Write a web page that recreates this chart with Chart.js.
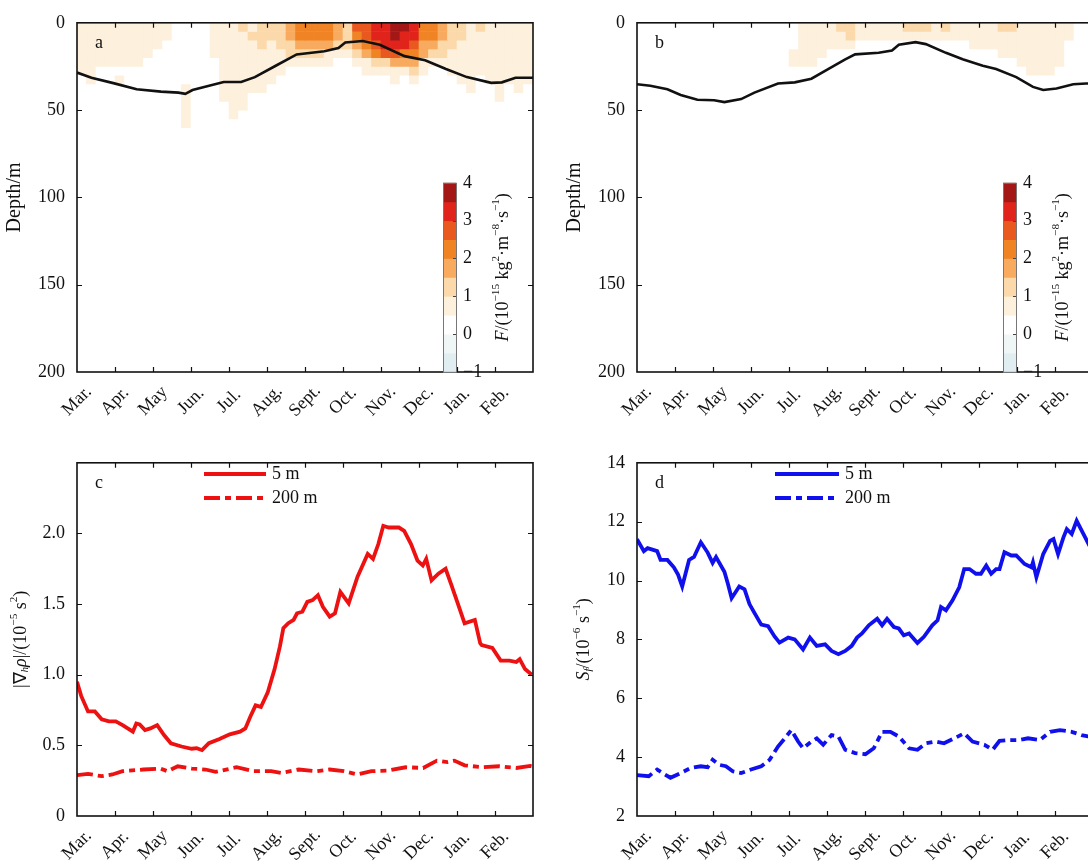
<!DOCTYPE html>
<html><head><meta charset="utf-8">
<script src="https://cdn.jsdelivr.net/npm/chart.js@4.4.0/dist/chart.umd.min.js"></script>
<style>
html,body{margin:0;padding:0;background:#fff;overflow:hidden;width:1088px;height:864px;position:relative;}
canvas{position:absolute;}
</style></head><body>
<canvas id="ca" width="560" height="430" style="left:0;top:0;width:560px;height:430px"></canvas>
<canvas id="cb" width="560" height="430" style="left:560px;top:0;width:560px;height:430px"></canvas>
<canvas id="cc" width="560" height="424" style="left:0;top:440px;width:560px;height:424px"></canvas>
<canvas id="cd" width="560" height="424" style="left:560px;top:440px;width:560px;height:424px"></canvas>
<script>
// ---------- categories / ticks ----------
const months = ['Mar.','Apr.','May','Jun.','Jul.','Aug.','Sept.','Oct.','Nov.','Dec.','Jan.','Feb.'];
const depthTicks = [0,50,100,150,200];
// heat-map column centres (month units, 0 = 1 Mar)
const colTime = [0.125,0.375,0.625,0.875,1.125,1.375,1.625,1.875,2.125,2.375,2.625,2.875,3.125,3.375,3.625,3.875,
  4.125,4.375,4.625,4.875,5.125,5.375,5.625,5.875,6.125,6.375,6.625,6.875,7.125,7.375,7.625,7.875,
  8.125,8.375,8.625,8.875,9.125,9.375,9.625,9.875,10.125,10.375,10.625,10.875,11.125,11.375,11.625,11.875];
const layerTop    = [0,5,10,15,20,25,30,35,40,45,50,55];
const layerBottom = [5,10,15,20,25,30,35,40,45,50,55,60];

// ---------- colour bar ----------
const cbBounds = [-1,-0.5,0,0.5,1,1.5,2,2.5,3,3.5,4];
const cbColors = ['#e0eef2','#f0f5f5','#ffffff','#fdf0dd','#fbd9aa','#f8aa5e','#f08424','#e9581e','#e0241b','#a31717'];
const cbTicks = [-1,0,1,2,3,4];

// ---------- panel a: F values (10^-15 kg2 m-8 s-1), one array per depth layer ----------
const a0to5   = [0.7,0.6,0.7,0.7, 0.6,0.7,0.7,0.6, 0.6,0.5, 0.3,0.2,0.3,0.4,0.6, 0.8,0.9,1.0,0.9,1.1, 1.1,1.3, 1.6,2.2,2.3,2.1, 2.2,1.7, 1.4,2.5, 2.8,3.1, 3.3,3.7,3.6,3.2, 2.3,2.2,1.8,1.4, 1.1,0.9,1.0,0.8,0.9,0.8,0.7,0.7];
const a5to10  = [0.7,0.6,0.6,0.7, 0.6,0.7,0.6,0.6, 0.5,0.5, 0.3,0.2,0.2,0.4,0.6, 0.8,0.9,0.9,1.0,1.0, 1.0,1.2, 1.5,2.1,2.2,2.0, 2.0,1.5, 1.3,2.4, 2.7,3.1, 3.2,3.5,3.4,3.0, 2.2,2.0,1.6,1.2, 1.0,0.9,0.9,0.8,0.8,0.8,0.7,0.7];
const a10to15 = [0.6,0.6,0.6,0.6, 0.6,0.6,0.6,0.5, 0.5,0.4, 0.2,0.2,0.2,0.3,0.5, 0.7,0.8,0.9,0.9,1.0, 0.9,1.1, 1.3,1.7,1.8,1.6, 1.5,1.2, 1.0,1.9, 2.4,2.9, 3.1,3.2,3.1,2.8, 1.9,1.7,1.3,1.1, 0.9,0.8,0.9,0.8,0.8,0.7,0.7,0.7];
const a15to20 = [0.6,0.6,0.5,0.6, 0.6,0.5,0.6,0.5, 0.4,0.4, 0.2,0.2,0.2,0.3,0.5, 0.7,0.8,0.8,0.9,0.9, 0.9,0.9, 1.0,1.2,1.2,1.1, 0.9,0.8, 0.7,1.2, 1.6,2.2, 2.6,2.7,2.4,2.2, 1.5,1.3,1.0,0.9, 0.9,0.8,0.8,0.7,0.8,0.7,0.7,0.7];
const a20to25 = [0.6,0.5,0.5,0.5, 0.5,0.5,0.5,0.4, 0.4,0.3, 0.2,0.2,0.2,0.3,0.4, 0.7,0.7,0.7,0.8,0.8, 0.8,0.8, 0.7,0.6,0.6,0.6, 0.5,0.4, 0.4,0.6, 0.9,1.3, 1.4,1.6,1.5,1.9, 0.9,0.8,0.7,0.7, 0.8,0.7,0.7,0.7,0.7,0.6,0.6,0.6];
const a25to30 = [0.5,0.5,0.4,0.4, 0.4,0.4,0.4,0.4, 0.3,0.3, 0.2,0.2,0.2,0.2,0.4, 0.6,0.6,0.7,0.6,0.6, 0.6,0.5, 0.4,0.3,0.2,0.2, 0.2,0.2, 0.2,0.3, 0.5,0.6, 0.7,0.8,0.7,1.1, 0.6,0.4,0.4,0.5, 0.6,0.6,0.5,0.6,0.6,0.5,0.6,0.6];
const a30to35 = [0.4,0.5,0.4,0.3, 0.5,0.3,0.4,0.3, 0.3,0.2, 0.2,0.2,0.2,0.2,0.3, 0.6,0.6,0.7,0.6,0.6, 0.5,0.3, 0.2,0.2,0.2,0.2, 0.2,0.2, 0.2,0.2, 0.3,0.4, 0.4,0.5,0.4,0.6, 0.3,0.2,0.2,0.3, 0.5,0.6,0.4,0.5,0.6,0.5,0.6,0.5];
const a35to40 = [0.2,0.3,0.2,0.2, 0.3,0.2,0.3,0.2, 0.2,0.2, 0.2,0.5,0.2,0.2,0.2, 0.6,0.6,0.6,0.5,0.5, 0.3,0.2, 0.2,0.2,0.2,0.2, 0.2,0.2, 0.2,0.2, 0.2,0.3, 0.2,0.3,0.2,0.3, 0.2,0.2,0.2,0.2, 0.3,0.5,0.2,0.3,0.5,0.3,0.5,0.3];
const a40to45 = [0.2,0.2,0.2,0.2, 0.2,0.2,0.2,0.2, 0.2,0.2, 0.2,0.5,0.2,0.2,0.2, 0.5,0.6,0.6,0.4,0.4, 0.2,0.2, 0.2,0.2,0.2,0.2, 0.2,0.2, 0.2,0.2, 0.2,0.2, 0.2,0.2,0.2,0.2, 0.2,0.2,0.2,0.2, 0.2,0.3,0.2,0.2,0.5,0.2,0.2,0.2];
const a45to50 = [0.2,0.2,0.2,0.2, 0.2,0.2,0.2,0.2, 0.2,0.2, 0.2,0.55,0.2,0.2,0.2, 0.4,0.55,0.5,0.3,0.2, 0.2,0.2, 0.2,0.2,0.2,0.2, 0.2,0.2, 0.2,0.2, 0.2,0.2, 0.2,0.2,0.2,0.2, 0.2,0.2,0.2,0.2, 0.2,0.2,0.2,0.2,0.2,0.2,0.2,0.2];
const a50to55 = [0.2,0.2,0.2,0.2, 0.2,0.2,0.2,0.2, 0.2,0.2, 0.2,0.55,0.2,0.2,0.2, 0.2,0.5,0.2,0.2,0.2, 0.2,0.2, 0.2,0.2,0.2,0.2, 0.2,0.2, 0.2,0.2, 0.2,0.2, 0.2,0.2,0.2,0.2, 0.2,0.2,0.2,0.2, 0.2,0.2,0.2,0.2,0.2,0.2,0.2,0.2];
const a55to60 = [0.2,0.2,0.2,0.2, 0.2,0.2,0.2,0.2, 0.2,0.2, 0.2,0.55,0.2,0.2,0.2, 0.2,0.2,0.2,0.2,0.2, 0.2,0.2, 0.2,0.2,0.2,0.2, 0.2,0.2, 0.2,0.2, 0.2,0.2, 0.2,0.2,0.2,0.2, 0.2,0.2,0.2,0.2, 0.2,0.2,0.2,0.2,0.2,0.2,0.2,0.2];

// ---------- panel b ----------
const b0to5   = [0.2,0.2,0.2,0.2, 0.2,0.2,0.2,0.2, 0.2,0.2, 0.2,0.2,0.2,0.2,0.2, 0.2,0.2,0.55,0.6,0.6, 0.6,1.1, 1.2,0.8,0.7,0.6, 0.7,0.6, 1.0,1.2, 1.1,0.9, 1.0,0.8,0.7,0.6, 0.7,0.8,1.1,1.0, 0.7,0.6,0.8,0.9,0.7,0.6,0.4,0.3];
const b5to10  = [0.2,0.2,0.2,0.2, 0.2,0.2,0.2,0.2, 0.2,0.2, 0.2,0.2,0.2,0.2,0.2, 0.2,0.2,0.5,0.6,0.6, 0.6,0.9, 1.0,0.7,0.6,0.6, 0.6,0.6, 0.8,0.9, 0.8,0.7, 0.8,0.6,0.6,0.6, 0.6,0.7,0.9,0.8, 0.6,0.6,0.7,0.7,0.6,0.6,0.4,0.3];
const b10to15 = [0.2,0.2,0.2,0.2, 0.2,0.2,0.2,0.2, 0.2,0.2, 0.2,0.2,0.2,0.2,0.2, 0.2,0.2,0.55,0.6,0.6, 0.5,0.6, 0.55,0.3,0.2,0.2, 0.2,0.2, 0.2,0.2, 0.2,0.2, 0.2,0.2,0.2,0.6, 0.5,0.6,0.6,0.5, 0.6,0.6,0.5,0.6,0.5,0.3,0.2,0.2];
const b15to20 = [0.2,0.2,0.2,0.2, 0.2,0.2,0.2,0.2, 0.2,0.2, 0.2,0.2,0.2,0.2,0.2, 0.2,0.5,0.6,0.6,0.5, 0.2,0.2, 0.2,0.2,0.2,0.2, 0.2,0.2, 0.2,0.2, 0.2,0.2, 0.2,0.2,0.2,0.2, 0.2,0.2,0.5,0.6, 0.5,0.6,0.6,0.5,0.5,0.2,0.2,0.2];
const b20to25 = [0.2,0.2,0.2,0.2, 0.2,0.2,0.2,0.2, 0.2,0.2, 0.2,0.2,0.2,0.2,0.2, 0.2,0.55,0.6,0.5,0.2, 0.2,0.2, 0.2,0.2,0.2,0.2, 0.2,0.2, 0.2,0.2, 0.2,0.2, 0.2,0.2,0.2,0.2, 0.2,0.2,0.2,0.2, 0.5,0.6,0.5,0.6,0.5,0.2,0.2,0.2];
const b25to30 = [0.2,0.2,0.2,0.2, 0.2,0.2,0.2,0.2, 0.2,0.2, 0.2,0.2,0.2,0.2,0.2, 0.2,0.2,0.2,0.2,0.2, 0.2,0.2, 0.2,0.2,0.2,0.2, 0.2,0.2, 0.2,0.2, 0.2,0.2, 0.2,0.2,0.2,0.2, 0.2,0.2,0.2,0.2, 0.2,0.5,0.55,0.5,0.2,0.2,0.2,0.2];

// ---------- mixed layer depth (m) ----------
const mldA_t = [0,0.38,0.93,1.57,2.21,2.67,2.85,3.04,3.86,4.32,4.68,5.23,5.78,6.51,6.88,7.06,7.52,7.97,8.62,9.16,9.71,10.26,10.9,11.18,11.54,12];
const mldA_d = [28.5,31.5,34.4,38.1,39.4,40,40.7,38.5,33.9,33.9,31.1,24.6,18.1,16.3,14.4,11.3,10.4,12.6,19.1,21.5,26.5,31.1,34.4,34.1,31.5,31.5];
const mldB_t = [0,0.35,0.8,1.15,1.59,2.03,2.3,2.74,3.09,3.71,4.15,4.59,5.03,5.48,5.74,6.36,6.71,6.89,7.33,7.6,8.13,8.57,9.1,9.45,9.98,10.42,10.69,11.04,11.48,11.82,12];
const mldB_d = [35.2,36.1,38.1,41.3,44.1,44.4,45.4,43.7,40,34.8,34.1,32,26.5,20.9,18.1,17.2,15.9,12.6,11.1,12.2,17.2,20.9,24.6,26.5,31.1,36.7,38.5,37.6,35.2,34.8,34.8];

// ---------- panel c: |grad rho| ----------
const c5_t = [0,0.11,0.29,0.47,0.65,0.84,1.02,1.2,1.47,1.56,1.65,1.79,1.93,2.11,2.29,2.47,2.75,3.02,3.15,3.29,3.47,3.75,4.02,4.29,4.43,4.56,4.7,4.84,5.02,5.2,5.34,5.43,5.56,5.7,5.79,5.93,6.06,6.2,6.34,6.47,6.65,6.79,6.93,7.15,7.38,7.65,7.79,7.93,8.06,8.2,8.47,8.61,8.79,8.96,9.1,9.19,9.33,9.51,9.7,9.84,10.02,10.2,10.47,10.61,10.65,10.93,11.15,11.38,11.56,11.65,11.79,11.97];
const c5_v = [0.95,0.85,0.74,0.74,0.685,0.67,0.67,0.643,0.597,0.655,0.648,0.608,0.62,0.643,0.573,0.515,0.492,0.476,0.48,0.466,0.515,0.545,0.578,0.597,0.62,0.702,0.783,0.772,0.876,1.04,1.2,1.33,1.365,1.388,1.435,1.446,1.516,1.528,1.563,1.481,1.411,1.435,1.586,1.505,1.692,1.855,1.82,1.925,2.054,2.042,2.042,2.019,1.925,1.808,1.773,1.82,1.668,1.715,1.75,1.645,1.505,1.364,1.388,1.224,1.21,1.19,1.10,1.10,1.09,1.11,1.04,1.0];
const c200_t = [0,0.29,0.65,0.93,1.2,1.75,2.2,2.38,2.65,3.02,3.38,3.65,4.2,4.65,5.11,5.38,5.84,6.29,6.65,7.02,7.38,7.75,8.2,8.65,9.11,9.47,9.75,9.93,10.2,10.65,11.11,11.56,11.93,12];
const c200_v = [0.289,0.298,0.282,0.294,0.317,0.329,0.336,0.317,0.352,0.336,0.329,0.312,0.345,0.317,0.317,0.305,0.329,0.317,0.329,0.317,0.294,0.317,0.322,0.345,0.34,0.392,0.382,0.392,0.359,0.345,0.352,0.34,0.354,0.35];

// ---------- panel d: S_f ----------
const d5_t = [0,0.18,0.28,0.53,0.62,0.8,0.97,1.08,1.19,1.37,1.5,1.68,1.86,1.99,2.08,2.3,2.39,2.49,2.69,2.83,2.96,3.09,3.27,3.45,3.62,3.75,3.98,4.15,4.37,4.55,4.73,4.95,5.12,5.3,5.48,5.65,5.79,5.92,6.1,6.32,6.45,6.58,6.76,6.89,7.02,7.16,7.38,7.55,7.77,7.91,8.0,8.13,8.3,8.48,8.61,8.75,8.92,9.05,9.19,9.32,9.45,9.54,9.67,9.85,9.98,10.2,10.38,10.42,10.51,10.69,10.87,10.96,11.08,11.22,11.31,11.44,11.57,11.75,11.9,12];
const d5_v = [11.4,11.0,11.1,11.0,10.7,10.7,10.45,10.2,9.8,10.7,10.8,11.3,10.95,10.6,10.8,10.3,9.9,9.4,9.8,9.7,9.2,8.9,8.5,8.45,8.1,7.89,8.06,8.0,7.66,8.06,7.78,7.83,7.61,7.5,7.61,7.78,8.06,8.2,8.48,8.7,8.48,8.7,8.42,8.37,8.14,8.2,7.88,8.09,8.48,8.65,9.1,8.99,9.32,9.77,10.39,10.39,10.23,10.23,10.51,10.23,10.39,10.39,10.96,10.85,10.85,10.56,10.45,10.62,10.11,10.9,11.35,11.41,10.9,11.46,11.75,11.58,12.03,11.58,11.2,11.0];
const d200_t = [0,0.31,0.53,0.71,0.88,1.15,1.41,1.68,1.86,1.99,2.16,2.34,2.52,2.74,3.0,3.27,3.49,3.71,3.89,4.06,4.24,4.37,4.59,4.73,4.9,5.12,5.3,5.48,5.74,6.01,6.23,6.45,6.67,6.89,7.16,7.38,7.6,7.86,8.08,8.35,8.61,8.83,9.14,9.36,9.54,9.81,10.07,10.29,10.6,10.87,11.13,11.44,11.7,11.9,12];
const d200_v = [3.39,3.35,3.58,3.43,3.3,3.46,3.63,3.69,3.66,3.91,3.74,3.69,3.52,3.46,3.58,3.69,3.91,4.36,4.64,4.92,4.53,4.3,4.53,4.64,4.42,4.75,4.7,4.25,4.14,4.1,4.3,4.86,4.86,4.7,4.3,4.25,4.47,4.53,4.47,4.64,4.81,4.53,4.42,4.25,4.55,4.58,4.58,4.64,4.58,4.86,4.92,4.86,4.75,4.7,4.7];

// ================= drawing =================
const SERIF = '"Liberation Serif","Times New Roman",serif';
const INK = '#111';

function colorFor(v){
  for (let i=0;i<cbColors.length;i++){ if (v < cbBounds[i+1]) return cbColors[i]; }
  return cbColors[cbColors.length-1];
}
function drawRich(ctx, segs, cx, cy, rot, size){
  ctx.save(); ctx.translate(cx,cy); ctx.rotate(rot);
  let total=0;
  const items = segs.map(s=>{
    const small = s.sup||s.sub;
    const fs = small? size*0.62 : size;
    const font = (s.it?'italic ':'')+fs+'px '+SERIF;
    ctx.font = font;
    const w = ctx.measureText(s.t).width; total += w;
    return {t:s.t,font,w,dy: s.sup? -size*0.36 : (s.sub? size*0.25 : 0)};
  });
  let x = -total/2;
  ctx.textAlign='left'; ctx.textBaseline='middle'; ctx.fillStyle=INK;
  items.forEach(it=>{ ctx.font=it.font; ctx.fillText(it.t,x,it.dy); x+=it.w; });
  ctx.restore();
}

function decoPlugin(cfg){
  return {
    id:'deco',
    afterDraw(chart){
      const ctx = chart.ctx, ca = chart.chartArea, xs = chart.scales.x, ys = chart.scales.y;
      ctx.save();
      // inward ticks
      ctx.strokeStyle=INK; ctx.lineWidth=1.2;
      ctx.beginPath();
      xs.ticks.forEach(t=>{
        if (t.value<=0 || t.value>=12) return;
        const x = Math.round(xs.getPixelForValue(t.value))+0.5;
        ctx.moveTo(x,ca.bottom); ctx.lineTo(x,ca.bottom-5);
        ctx.moveTo(x,ca.top); ctx.lineTo(x,ca.top+5);
      });
      ys.ticks.forEach(t=>{
        const y = Math.round(ys.getPixelForValue(t.value))+0.5;
        if (Math.abs(y-ca.top)<2 || Math.abs(y-ca.bottom)<2) return;
        ctx.moveTo(ca.left,y); ctx.lineTo(ca.left+5,y);
        ctx.moveTo(ca.right,y); ctx.lineTo(ca.right-5,y);
      });
      ctx.stroke();
      // frame
      ctx.lineWidth=1.6;
      ctx.strokeRect(ca.left,ca.top,ca.right-ca.left,ca.bottom-ca.top);
      // x labels (rotated, centred under tick)
      ctx.fillStyle=INK; ctx.font='18px '+SERIF; ctx.textAlign='center'; ctx.textBaseline='middle';
      xs.ticks.forEach(t=>{
        if (t.value<0 || t.value>11) return;
        const x = xs.getPixelForValue(t.value);
        ctx.save(); ctx.translate(x, ca.bottom+29); ctx.rotate(-Math.PI/4);
        ctx.fillText(months[t.value],0,0); ctx.restore();
      });
      // panel letter
      ctx.font='18px '+SERIF; ctx.textAlign='left'; ctx.textBaseline='middle';
      ctx.fillText(cfg.letter, ca.left+18, ca.top+20);
      // y title
      drawRich(ctx, cfg.ytitle, cfg.ytx, (ca.top+ca.bottom)/2 + (cfg.yty||0), -Math.PI/2, cfg.ysize||18);
      // colour bar
      if (cfg.colorbar){
        const x0 = ca.left+366, w = 13, yTop = ca.top+160, yBot = ca.top+349;
        const yOf = v => yBot - (v-cbBounds[0])/(cbBounds[cbBounds.length-1]-cbBounds[0])*(yBot-yTop);
        for (let i=0;i<cbColors.length;i++){
          ctx.fillStyle=cbColors[i];
          ctx.fillRect(x0, yOf(cbBounds[i+1]), w, yOf(cbBounds[i])-yOf(cbBounds[i+1])+0.5);
        }
        ctx.strokeStyle='#777'; ctx.lineWidth=1; ctx.strokeRect(x0+0.5,yTop+0.5,w,yBot-yTop);
        ctx.strokeStyle='#444'; ctx.beginPath();
        cbTicks.forEach(v=>{ if(v===-1||v===4) return; const y=Math.round(yOf(v))+0.5; ctx.moveTo(x0+w-3,y); ctx.lineTo(x0+w,y); });
        ctx.stroke();
        ctx.fillStyle=INK; ctx.font='18px '+SERIF; ctx.textAlign='left'; ctx.textBaseline='middle';
        cbTicks.forEach(v=>{ ctx.fillText(v<0?'\u2212'+Math.abs(v):String(v), x0+w+7, yOf(v)); });
        drawRich(ctx, [{t:'F',it:true},{t:'/(10'},{t:'\u221215',sup:true},{t:' kg'},{t:'2',sup:true},{t:'\u00b7m'},{t:'\u22128',sup:true},{t:'\u00b7s'},{t:'\u22121',sup:true},{t:')'}],
          ca.left+cfg.cbtx, (yTop+yBot)/2-10, -Math.PI/2, 18);
      }
      // legend
      if (cfg.legend){
        const L = cfg.legend;
        ctx.strokeStyle=L.color; ctx.lineWidth=4; ctx.lineCap='butt';
        ctx.setLineDash([]); ctx.beginPath(); ctx.moveTo(L.x0,L.y1); ctx.lineTo(L.x1,L.y1); ctx.stroke();
        ctx.setLineDash(L.dash); ctx.beginPath(); ctx.moveTo(L.x0,L.y2); ctx.lineTo(L.x1,L.y2); ctx.stroke();
        ctx.setLineDash([]);
        ctx.fillStyle=INK; ctx.font='18px '+SERIF; ctx.textAlign='left'; ctx.textBaseline='middle';
        ctx.fillText('5 m', L.x1+6, L.y1); ctx.fillText('200 m', L.x1+6, L.y2);
      }
      ctx.restore();
    }
  };
}

function heatChart(id, rows, mldT, mldD, letter){
  const sets = rows.map((vals,r)=>({
    type:'bar', order:2, grouped:false,
    data: colTime.map(t=>({x:t, y:[layerTop[r], layerBottom[r]]})),
    backgroundColor: vals.map(colorFor),
    borderWidth:0, barPercentage:1, categoryPercentage:1
  }));
  sets.push({type:'line', order:0, data: mldT.map((t,i)=>({x:t,y:mldD[i]})),
    borderColor:'#111', borderWidth:2.6, pointRadius:0, tension:0, fill:false});
  return new Chart(document.getElementById(id), {
    type:'bar',
    data:{datasets:sets},
    options:{
      responsive:false, animation:false, events:[],
      layout:{padding:{left:0,top:14,right:27,bottom:0}},
      plugins:{legend:{display:false}, tooltip:{enabled:false}},
      scales:{
        x:{type:'linear', min:0, max:12, offset:false, ticks:{stepSize:1, display:false},
           grid:{display:false, drawTicks:false}, border:{display:false}, afterFit(s){s.height=58;}},
        y:{type:'linear', min:0, max:200, reverse:true, afterBuildTicks(s){s.ticks=depthTicks.map(v=>({value:v}));},
           ticks:{font:{family:SERIF,size:18}, color:INK, padding:12},
           grid:{display:false, drawTicks:false}, border:{display:false}, afterFit(s){s.width=77;}}
      }
    },
    plugins:[decoPlugin({letter, ytitle:[{t:'Depth/m'}], ytx:15, ysize:20, colorbar:true, cbtx:426})]
  });
}

heatChart('ca', [a0to5,a5to10,a10to15,a15to20,a20to25,a25to30,a30to35,a35to40,a40to45,a45to50,a50to55,a55to60], mldA_t, mldA_d, 'a');
heatChart('cb', [b0to5,b5to10,b10to15,b15to20,b20to25,b25to30], mldB_t, mldB_d, 'b');

function lineChart(id, t5, v5, t200, v200, color, ymin, ymax, step, fmt, letter, ytitle, ytx, legend){
  const dash = [16,5,6,5];
  return new Chart(document.getElementById(id), {
    type:'line',
    data:{datasets:[
      {data:t5.map((t,i)=>({x:t,y:v5[i]})), borderColor:color, borderWidth:3.8, pointRadius:0, tension:0},
      {data:t200.map((t,i)=>({x:t,y:v200[i]})), borderColor:color, borderWidth:3.8, borderDash:dash, pointRadius:0, tension:0}
    ]},
    options:{
      responsive:false, animation:false, events:[],
      layout:{padding:{left:0,top:17,right:27,bottom:0}},
      plugins:{legend:{display:false}, tooltip:{enabled:false}},
      scales:{
        x:{type:'linear', min:0, max:12, offset:false, ticks:{stepSize:1, display:false},
           grid:{display:false, drawTicks:false}, border:{display:false}, afterFit(s){s.height=48;}},
        y:{type:'linear', min:ymin, max:ymax, ticks:{stepSize:step, font:{family:SERIF,size:18}, color:INK, padding:12, callback:fmt},
           grid:{display:false, drawTicks:false}, border:{display:false}, afterFit(s){s.width=77;}}
      }
    },
    plugins:[decoPlugin({letter, ytitle, ytx, ysize:18, legend:Object.assign({color, dash}, legend)})]
  });
}

lineChart('cc', c5_t, c5_v, c200_t, c200_v, '#ee1111', 0, 2.5, 0.5,
  v => v===0 ? '0' : (v>2.4 ? '' : v.toFixed(1)), 'c',
  [{t:'|\u2207'},{t:'h',it:true,sub:true},{t:'\u03c1',it:true},{t:'|/(10'},{t:'\u22125',sup:true},{t:' s'},{t:'2',sup:true},{t:')'}], 21,
  {x0:204, x1:266, y1:34, y2:58});
lineChart('cd', d5_t, d5_v, d200_t, d200_v, '#1010ee', 2, 14, 2,
  v => String(v), 'd',
  [{t:'S',it:true},{t:'f',it:true,sub:true},{t:'/(10'},{t:'\u22126',sup:true},{t:' s'},{t:'\u22121',sup:true},{t:')'}], 24,
  {x0:215, x1:279, y1:34, y2:58});
</script>
</body></html>
